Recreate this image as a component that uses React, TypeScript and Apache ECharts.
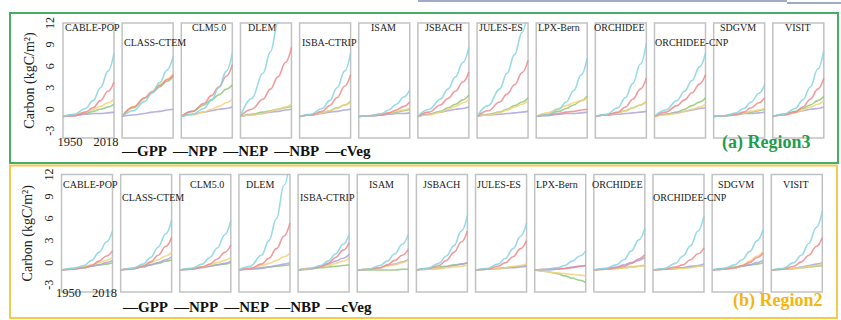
import { useEffect, useRef } from 'react';
import * as echarts from 'echarts';

const years = [1950, 1965, 1980, 1990, 2000, 2010, 2018];
const models = ['CABLE-POP', 'CLASS-CTEM', 'CLM5.0', 'DLEM', 'ISBA-CTRIP', 'ISAM', 'JSBACH', 'JULES-ES', 'LPX-Bern', 'ORCHIDEE', 'ORCHIDEE-CNP', 'SDGVM', 'VISIT'];
const seriesNames = ['GPP', 'NPP', 'NEP', 'NBP', 'cVeg'];
const yTicks = [-3, 0, 3, 6, 9, 12];
const xTicks = [1950, 2018];

// Region3 (panel a)
const region3GPP = [
  [-1, -0.7, 0.1, 1.2, 3.0, 5.3, 7.8],
  [-1, -0.2, 1.1, 2.3, 3.7, 5.5, 7.3],
  [-1, -0.7, 0.1, 1.2, 3.0, 5.3, 7.8],
  [-1, 1.5, 5, 8, 12, 16, 19],
  [-1, -0.7, 0.1, 1.2, 3.0, 5.3, 7.8],
  [-1, -0.9, -0.6, -0.1, 0.7, 1.7, 2.7],
  [-1, 0, 1.4, 2.8, 4.5, 6.5, 8.6],
  [-1, 0.5, 2.8, 5, 7.6, 10.7, 14],
  [-1, -0.8, 0, 1, 2.6, 4.8, 7.1],
  [-1, -0.7, 0.2, 1.6, 3.6, 6.3, 9.2],
  [-1, -0.1, 1.2, 2.5, 4.0, 5.9, 7.8],
  [-1, -0.9, -0.5, 0.1, 1.0, 2.2, 3.4],
  [-1, -0.7, 0.1, 1.3, 3.1, 5.6, 8.2],
];
const region3NPP = [
  [-1, -0.9, -0.4, 0.2, 1.2, 2.5, 3.8],
  [-1, 0.3, 1.6, 2.4, 3.3, 4.1, 4.8],
  [-1, -0.3, 0.8, 1.9, 3.1, 4.6, 6.2],
  [-1, 0, 1.4, 2.8, 4.5, 6.5, 8.6],
  [-1, -0.8, -0.3, 0.5, 1.6, 3.2, 4.8],
  [-1, -0.9, -0.8, -0.5, -0.1, 0.4, 1.0],
  [-1, -0.4, 0.6, 1.5, 2.5, 3.8, 5.2],
  [-1, -0.2, 1, 2.1, 3.4, 5.1, 6.8],
  [-1, -0.8, -0.6, -0.4, -0.3, -0.1, 0],
  [-1, -0.8, -0.4, 0.3, 1.4, 2.8, 4.3],
  [-1, -0.4, 0.5, 1.3, 2.3, 3.5, 4.8],
  [-1, -0.9, -0.7, -0.4, 0.2, 0.9, 1.6],
  [-1, -0.8, -0.4, 0.3, 1.4, 2.8, 4.3],
];
const region3NEP = [
  [-1, -0.8, -0.4, 0, 0.4, 0.9, 1.4],
  [-1, 0.3, 1.6, 2.5, 3.4, 4.2, 4.9],
  [-1, -0.8, -0.4, 0, 0.4, 0.9, 1.4],
  [-1, -0.8, -0.6, -0.3, 0, 0.3, 0.7],
  [-1, -0.8, -0.5, -0.2, 0.1, 0.6, 1.0],
  [-1, -0.9, -0.7, -0.5, -0.3, -0.1, 0.2],
  [-1, -0.8, -0.4, 0, 0.4, 0.9, 1.4],
  [-1, -0.8, -0.5, -0.1, 0.3, 0.7, 1.2],
  [-1, -0.5, 0.1, 0.5, 0.9, 1.2, 1.5],
  [-1, -0.8, -0.5, -0.2, 0.2, 0.6, 1.1],
  [-1, -0.8, -0.6, -0.3, 0, 0.3, 0.7],
  [-1, -0.9, -0.7, -0.5, -0.3, -0.1, 0.2],
  [-1, -0.8, -0.5, -0.1, 0.3, 0.7, 1.2],
];
const region3NBP = [
  [-1, -0.9, -0.7, -0.6, -0.6, -0.5, -0.4],
  [-1, -0.8, -0.6, -0.4, -0.3, -0.1, 0],
  [-1, -0.7, -0.4, -0.2, 0, 0.1, 0.3],
  [-1, -0.8, -0.6, -0.4, -0.3, -0.1, 0],
  [-1, -0.8, -0.6, -0.4, -0.3, -0.1, 0],
  [-1, -0.9, -0.8, -0.7, -0.6, -0.6, -0.5],
  [-1, -0.7, -0.4, -0.2, 0, 0.1, 0.3],
  [-1, -0.8, -0.7, -0.6, -0.5, -0.4, -0.3],
  [-1, -0.9, -0.7, -0.6, -0.6, -0.5, -0.4],
  [-1, -0.8, -0.7, -0.6, -0.5, -0.4, -0.3],
  [-1, -0.7, -0.5, -0.3, -0.1, 0.1, 0.2],
  [-1, -0.9, -0.7, -0.6, -0.6, -0.5, -0.4],
  [-1, -0.7, -0.4, -0.2, 0, 0.1, 0.3],
];
const region3CVeg = [
  [-1, -0.8, -0.6, -0.3, 0, 0.3, 0.7],
  [-1, 0.2, 1.5, 2.3, 3.1, 3.9, 4.6],
  [-1, -0.3, 0.6, 1.3, 2.0, 2.8, 3.4],
  [-1, -0.7, -0.4, -0.2, 0, 0.2, 0.4],
  [-1, -0.8, -0.5, -0.2, 0.2, 0.6, 1.1],
  [-1, -0.9, -0.8, -0.6, -0.4, -0.2, 0],
  [-1, -0.7, -0.3, 0.2, 0.7, 1.3, 2],
  [-1, -0.7, -0.4, 0, 0.5, 1, 1.6],
  [-1, -0.7, -0.3, 0.1, 0.6, 1.2, 1.8],
  [-1, -0.8, -0.5, -0.2, 0.2, 0.6, 1.1],
  [-1, -0.7, -0.4, 0, 0.5, 1, 1.6],
  [-1, -0.9, -0.8, -0.6, -0.4, -0.2, 0],
  [-1, -0.7, -0.3, 0.1, 0.6, 1.2, 1.8],
];

// Region2 (panel b)
const region2GPP = [
  [-1, -0.8, -0.4, 0.3, 1.4, 2.8, 4.3],
  [-1, -0.8, -0.2, 0.7, 2.1, 3.9, 5.8],
  [-1, -0.8, -0.2, 0.7, 2.0, 3.8, 5.7],
  [-1, -0.5, 1, 3, 6, 10.5, 14],
  [-1, -0.9, -0.4, 0.2, 1.2, 2.5, 3.8],
  [-1, -0.9, -0.4, 0.2, 1.2, 2.5, 3.8],
  [-1, -0.8, -0.1, 0.9, 2.3, 4.3, 6.4],
  [-1, -0.8, -0.2, 0.6, 1.9, 3.6, 5.4],
  [-1, -0.9, -0.7, -0.4, 0.2, 0.9, 1.6],
  [-1, -0.8, -0.3, 0.4, 1.6, 3.1, 4.7],
  [-1, -0.8, -0.1, 0.9, 2.3, 4.3, 6.4],
  [-1, -0.8, -0.3, 0.4, 1.5, 3.0, 4.5],
  [-1, -0.8, 0, 1, 2.6, 4.8, 7],
];
const region2NPP = [
  [-1, -0.9, -0.7, -0.4, 0.2, 0.9, 1.6],
  [-1, -0.9, -0.5, 0.1, 1.0, 2.2, 3.4],
  [-1, -0.9, -0.6, -0.2, 0.5, 1.4, 2.4],
  [-1, -0.8, -0.2, 0.6, 1.9, 3.6, 5.4],
  [-1, -0.9, -0.6, -0.1, 0.7, 1.7, 2.7],
  [-1, -0.9, -0.7, -0.3, 0.3, 1.0, 1.8],
  [-1, -0.8, -0.4, 0.3, 1.4, 2.8, 4.3],
  [-1, -0.9, -0.5, 0, 0.8, 1.9, 3],
  [-1, -0.9, -0.8, -0.8, -0.7, -0.5, -0.4],
  [-1, -0.9, -0.7, -0.5, -0.1, 0.5, 1.1],
  [-1, -0.9, -0.6, -0.3, 0.4, 1.2, 2.0],
  [-1, -0.9, -0.7, -0.4, 0, 0.7, 1.3],
  [-1, -0.9, -0.5, 0.1, 1.0, 2.2, 3.4],
];
const region2NEP = [
  [-1, -0.8, -0.6, -0.3, 0, 0.3, 0.7],
  [-1, -0.8, -0.4, 0, 0.4, 0.9, 1.4],
  [-1, -0.8, -0.6, -0.3, 0, 0.3, 0.7],
  [-1, -0.8, -0.4, -0.1, 0.3, 0.8, 1.3],
  [-1, -0.8, -0.6, -0.4, -0.1, 0.2, 0.6],
  [-1, -0.9, -0.7, -0.5, -0.3, 0, 0.3],
  [-1, -0.9, -0.8, -0.7, -0.6, -0.5, -0.3],
  [-1, -0.9, -0.8, -0.7, -0.5, -0.4, -0.2],
  [-1, -1.2, -1.4, -1.5, -1.6, -1.7, -1.8],
  [-1, -0.9, -0.8, -0.7, -0.6, -0.5, -0.3],
  [-1, -0.9, -0.8, -0.8, -0.7, -0.5, -0.4],
  [-1, -0.9, -0.7, -0.4, 0.2, 0.9, 1.6],
  [-1, -0.9, -0.8, -0.7, -0.5, -0.4, -0.2],
];
const region2NBP = [
  [-1, -0.9, -0.7, -0.5, -0.3, 0, 0.3],
  [-1, -0.8, -0.6, -0.3, 0, 0.4, 0.8],
  [-1, -0.9, -0.7, -0.5, -0.3, -0.1, 0.2],
  [-1, -0.9, -0.8, -0.6, -0.4, -0.2, 0],
  [-1, -0.8, -0.5, -0.2, 0.2, 0.6, 1.1],
  [-1, -0.9, -0.7, -0.4, -0.2, 0.1, 0.4],
  [-1, -0.9, -0.8, -0.6, -0.4, -0.2, 0],
  [-1, -0.9, -0.8, -0.7, -0.7, -0.6, -0.5],
  [-1, -1, -0.9, -0.8, -0.6, -0.5, -0.4],
  [-1, -0.8, -0.6, -0.3, 0, 0.3, 0.7],
  [-1, -0.9, -0.8, -0.7, -0.5, -0.4, -0.2],
  [-1, -0.9, -0.7, -0.5, -0.3, 0, 0.3],
  [-1, -0.9, -0.8, -0.6, -0.4, -0.2, 0],
];
const region2CVeg = [
  [-1, -0.8, -0.6, -0.5, -0.3, -0.2, 0],
  [-1, -0.8, -0.5, -0.3, -0.1, 0.2, 0.4],
  [-1, -0.8, -0.6, -0.5, -0.3, -0.2, 0],
  [-1, -0.8, -0.7, -0.6, -0.5, -0.4, -0.3],
  [-1, -0.8, -0.7, -0.6, -0.5, -0.4, -0.3],
  [-1, -1, -1, -1, -1, -0.9, -0.9],
  [-1, -0.8, -0.6, -0.5, -0.3, -0.2, 0],
  [-1, -0.9, -0.8, -0.7, -0.6, -0.5, -0.4],
  [-1, -1.2, -1.5, -1.8, -2.1, -2.4, -2.7],
  [-1, -0.9, -0.8, -0.7, -0.6, -0.5, -0.4],
  [-1, -0.9, -0.8, -0.7, -0.6, -0.5, -0.4],
  [-1, -0.8, -0.6, -0.5, -0.3, -0.2, 0],
  [-1, -0.9, -0.8, -0.7, -0.6, -0.5, -0.4],
];

const lineColors = ['#86d3e4', '#ef8a8c', '#f3d27a', '#aaa3e2', '#8fc87a'];
const titleX = [65, 124, 192, 248, 302, 371, 425, 479, 538, 594, 655, 720, 785];
const titleRow = [0, 1, 0, 0, 1, 0, 0, 0, 0, 0, 1, 0, 0];

const SERIF = 'Liberation Serif';

function buildOption() {
  const panels = [
    {
      label: '(a) Region3', labelColor: '#1f9d4c', labelLeft: 722, labelTop: 133,
      data: [region3GPP, region3NPP, region3NEP, region3NBP, region3CVeg],
      gridTop: 23, gridHeight: 115, leftStart: 63, titleTops: [22, 37], titleShift: 0,
      xMargin: -3, legendTop: 143, legendLeft: 117,
    },
    {
      label: '(b) Region2', labelColor: '#f6b50c', labelLeft: 733, labelTop: 291,
      data: [region2GPP, region2NPP, region2NEP, region2NBP, region2CVeg],
      gridTop: 174.5, gridHeight: 117.5, leftStart: 61.5, titleTops: [179, 192], titleShift: -2,
      xMargin: -6, legendTop: 299, legendLeft: 118,
    },
  ];
  const step = 59.15;
  const grid: any[] = [];
  const xAxis: any[] = [];
  const yAxis: any[] = [];
  const series: any[] = [];
  const title: any[] = [];
  const legend: any[] = [];
  const legendText = { fontFamily: SERIF, fontSize: 15, fontWeight: 'bold', color: '#111' };
  const xLabelBase = { fontFamily: SERIF, fontSize: 12.5, color: '#222' };

  panels.forEach((p) => {
    models.forEach((m, i) => {
      const gi = grid.length;
      const first = i === 0;
      grid.push({
        left: p.leftStart + i * step, top: p.gridTop, width: 51, height: p.gridHeight,
        show: true, borderColor: '#c2c2c2', borderWidth: 1.5, backgroundColor: 'transparent',
      });
      xAxis.push({
        type: 'value', gridIndex: gi, min: 1950, max: 2018,
        axisLine: { show: false }, axisTick: { show: false }, splitLine: { show: false },
        axisLabel: {
          show: first, customValues: xTicks, margin: p.xMargin,
          showMinLabel: true, showMaxLabel: true, hideOverlap: false,
          formatter: (v: number) => (v === xTicks[0] ? `{lo|${v}}` : `{hi|${v}}`),
          rich: {
            lo: { ...xLabelBase, padding: [0, 0, 0, 14] },
            hi: { ...xLabelBase, padding: [0, 16, 0, 0] },
          },
          ...xLabelBase,
          alignMinLabel: 'center', alignMaxLabel: 'center',
        },
      });
      yAxis.push({
        type: 'value', gridIndex: gi, min: -4, max: 12,
        axisLine: { show: false }, axisTick: { show: false }, splitLine: { show: false },
        axisLabel: {
          show: first, customValues: yTicks, rotate: 90, margin: 7,
          showMinLabel: true, showMaxLabel: true,
          fontFamily: SERIF, fontSize: 12, color: '#222',
        },
        name: first ? 'Carbon (kgC/m²)' : '',
        nameLocation: 'middle', nameGap: 27, nameRotate: 90,
        nameTextStyle: { fontFamily: SERIF, fontSize: 14, color: '#222' },
      });
      seriesNames.forEach((s, si) => {
        series.push({
          type: 'line', name: s, xAxisIndex: gi, yAxisIndex: gi,
          data: years.map((y, k) => [y, p.data[si][i][k]]),
          symbol: 'none', smooth: 0.4, smoothMonotone: 'x', clip: true,
          lineStyle: { color: lineColors[si], width: 1.6, opacity: 0.85 },
          itemStyle: { color: lineColors[si] },
          z: 2 + (4 - si),
        });
      });
      title.push({
        text: m, left: titleX[i] + p.titleShift, top: p.titleTops[titleRow[i]], padding: 0,
        textStyle: { fontFamily: SERIF, fontSize: 10, fontWeight: 'normal', color: '#1a1a1a' },
      });
    });
    title.push({
      text: p.label, left: p.labelLeft, top: p.labelTop, padding: 0,
      textStyle: { fontFamily: SERIF, fontSize: 18, fontWeight: 'bold', color: p.labelColor },
    });
    legend.push({
      left: p.legendLeft, top: p.legendTop, padding: 0, itemGap: 1,
      itemWidth: 0.01, itemHeight: 0.01, selectedMode: false,
      formatter: (name: string) => '—' + name,
      data: seriesNames.map((n) => ({ name: n, icon: 'rect', itemStyle: { color: 'rgba(0,0,0,0)', borderWidth: 0 }, textStyle: legendText })),
      textStyle: legendText,
    });
  });

  return {
    animation: false,
    backgroundColor: '#ffffff',
    textStyle: { fontFamily: SERIF },
    grid, xAxis, yAxis, series, title, legend,
    graphic: [
      { type: 'line', shape: { x1: 418, y1: 1, x2: 787, y2: 1 }, style: { stroke: '#7f8fb0', lineWidth: 1.5 } },
      { type: 'line', shape: { x1: 787, y1: 3, x2: 841, y2: 3 }, style: { stroke: '#7f8fb0', lineWidth: 1.5 } },
      { type: 'rect', shape: { x: 10, y: 13, width: 828, height: 150 }, style: { fill: 'none', stroke: '#46ad64', lineWidth: 2 } },
      { type: 'rect', shape: { x: 10, y: 165.5, width: 827, height: 152.5 }, style: { fill: 'none', stroke: '#f1cb4f', lineWidth: 2 } },
    ],
  };
}

export default function App() {
  const ref = useRef<HTMLDivElement>(null);
  useEffect(() => {
    document.body.style.margin = '0';
    const chart = echarts.init(ref.current!, null, { renderer: 'svg' });
    chart.setOption(buildOption() as any);
    return () => chart.dispose();
  }, []);
  return <div ref={ref} style={{ width: 841, height: 320 }} />;
}
